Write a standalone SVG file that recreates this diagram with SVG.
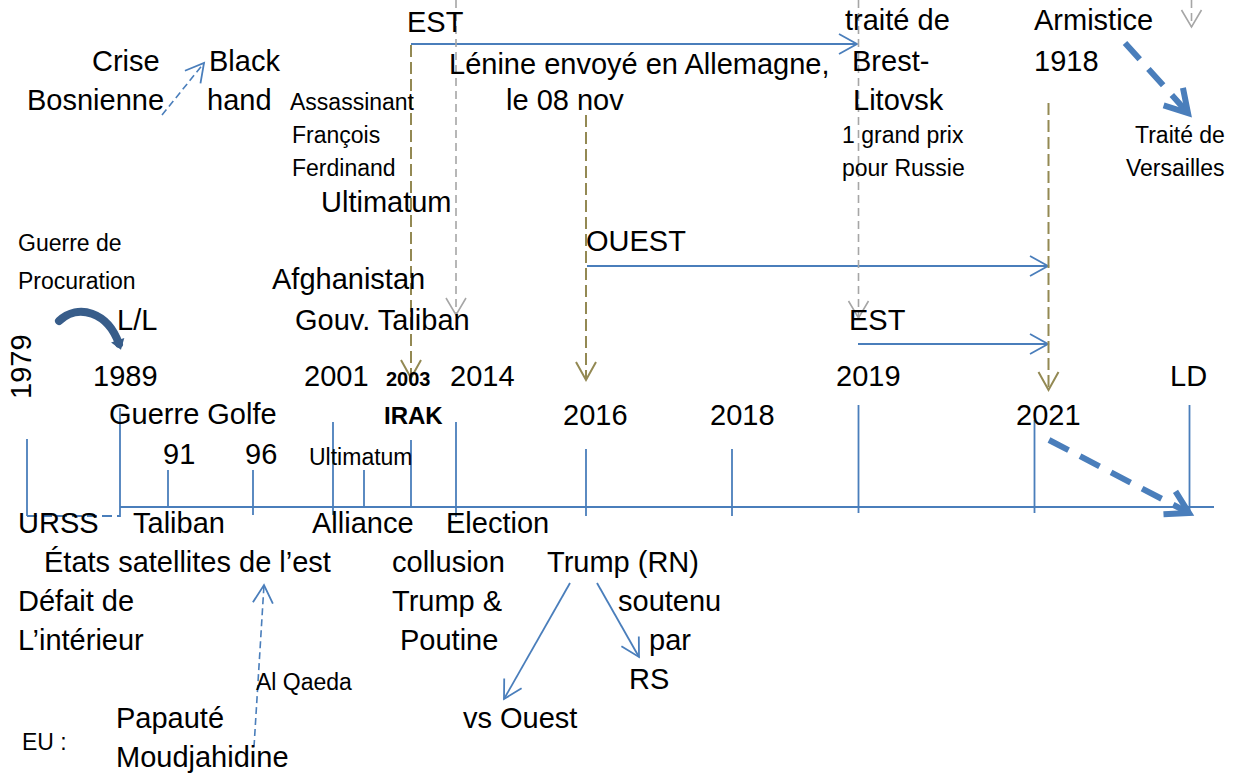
<svg xmlns="http://www.w3.org/2000/svg" width="1237" height="774" viewBox="0 0 1237 774">
<style>
text{font-family:"Liberation Sans",Arial,sans-serif;fill:#000}
.b{font-size:29px}
.s{font-size:23px}
.bd{font-weight:bold}
.ax{stroke:#4A7EBB;stroke-width:1.8;fill:none}
.ol{stroke:#938953;stroke-width:2;stroke-dasharray:12 5;fill:none}
.gr{stroke:#A6A6A6;stroke-width:1.6;stroke-dasharray:8 5;fill:none}
.th{stroke:#4A7EBB;stroke-width:6;stroke-dasharray:22 13;fill:none}
.td{stroke:#4A7EBB;stroke-width:1.6;stroke-dasharray:7 4;fill:none}
</style>
<defs>
<marker id="aBlue" markerUnits="userSpaceOnUse" markerWidth="24" markerHeight="24" refX="18" refY="10" orient="auto" overflow="visible"><path d="M0,0 L18,10 L0,20" fill="none" stroke="#4A7EBB" stroke-width="1.8"/></marker>
<marker id="aOlive" markerUnits="userSpaceOnUse" markerWidth="24" markerHeight="24" refX="18" refY="10" orient="auto" overflow="visible"><path d="M0,0 L18,10 L0,20" fill="none" stroke="#938953" stroke-width="2"/></marker>
<marker id="aGray" markerUnits="userSpaceOnUse" markerWidth="24" markerHeight="24" refX="17" refY="10" orient="auto" overflow="visible"><path d="M0,0 L17,10 L0,20" fill="none" stroke="#A6A6A6" stroke-width="1.6"/></marker>
<marker id="aThick" markerUnits="userSpaceOnUse" markerWidth="30" markerHeight="30" refX="22" refY="13" orient="auto" overflow="visible"><path d="M0,0 L22,13 L0,26" fill="none" stroke="#4A7EBB" stroke-width="6"/></marker>
<marker id="aCurve" markerUnits="userSpaceOnUse" markerWidth="14" markerHeight="16" refX="4" refY="7" orient="auto" overflow="visible"><path d="M0,0 L10,7 L0,14 z" fill="#385D8A"/></marker>
</defs>
<rect width="1237" height="774" fill="#fff"/>

<g id="connectors">
  <line class="ax" x1="120" y1="507" x2="1214" y2="507"/>
  <line class="ax" x1="27" y1="439" x2="27" y2="516"/>
  <line class="ax" x1="27" y1="516" x2="120" y2="516" stroke-dasharray="10 5"/>
  <line class="ax" x1="120" y1="408" x2="120" y2="517"/>
  <line class="ax" x1="168" y1="470" x2="168" y2="507"/>
  <line class="ax" x1="253" y1="470" x2="253" y2="515"/>
  <line class="ax" x1="333" y1="422" x2="333" y2="515"/>
  <line class="ax" x1="364" y1="470" x2="364" y2="507"/>
  <line class="ax" x1="411" y1="440" x2="411" y2="507"/>
  <line class="ax" x1="456" y1="422" x2="456" y2="517"/>
  <line class="ax" x1="586" y1="449" x2="586" y2="516"/>
  <line class="ax" x1="732" y1="449" x2="732" y2="516"/>
  <line class="ax" x1="858.5" y1="405" x2="858.5" y2="513"/>
  <line class="ax" x1="1034.5" y1="420" x2="1034.5" y2="513"/>
  <line class="ax" x1="1189.5" y1="405" x2="1189.5" y2="513"/>

  <line class="ax" x1="411" y1="44" x2="857" y2="44" marker-end="url(#aBlue)"/>
  <line class="ax" x1="587" y1="266" x2="1048" y2="266" marker-end="url(#aBlue)"/>
  <line class="ax" x1="858" y1="344" x2="1048" y2="344" marker-end="url(#aBlue)"/>

  <line class="ol" x1="411" y1="45" x2="411" y2="378" marker-end="url(#aOlive)"/>
  <line class="ol" x1="586" y1="115" x2="586" y2="380" marker-end="url(#aOlive)"/>
  <line class="ol" x1="1048.5" y1="103" x2="1048.5" y2="390" marker-end="url(#aOlive)"/>

  <line class="gr" x1="456" y1="0" x2="456" y2="315" marker-end="url(#aGray)"/>
  <line class="gr" x1="858.5" y1="0" x2="858.5" y2="318" marker-end="url(#aGray)"/>
  <line class="gr" x1="1191.5" y1="0" x2="1191.5" y2="27" marker-end="url(#aGray)"/>

  <line class="th" x1="1125" y1="43" x2="1188" y2="113" marker-end="url(#aThick)"/>
  <line class="th" x1="1049" y1="440" x2="1189" y2="513" marker-end="url(#aThick)"/>

  <line class="td" x1="162" y1="115" x2="204" y2="63" marker-end="url(#aBlue)"/>
  <line class="td" x1="254" y1="747" x2="264" y2="585" marker-end="url(#aBlue)"/>

  <line class="ax" x1="570" y1="583" x2="504" y2="699" marker-end="url(#aBlue)"/>
  <line class="ax" x1="597" y1="583" x2="639" y2="657" marker-end="url(#aBlue)"/>

  <path d="M59 321 C78 303 108 312 119 344" fill="none" stroke="#385D8A" stroke-width="8" stroke-linecap="round" marker-end="url(#aCurve)"/>
</g>

<g id="n-crise"><text class="b" x="92" y="71">Crise</text><text class="b" x="27" y="110">Bosnienne</text></g>
<g id="n-black"><text class="b" x="209" y="71">Black</text><text class="b" x="207" y="110">hand</text></g>
<g id="n-assassinat"><text class="s" x="290" y="110">Assassinant</text><text class="s" x="292" y="143">François</text><text class="s" x="292" y="176">Ferdinand</text></g>
<g id="n-ultimatum-top"><text class="b" x="321" y="212">Ultimatum</text></g>
<g id="n-est-top"><text class="b" x="407" y="32">EST</text></g>
<g id="n-lenine"><text class="b" x="449" y="74">Lénine envoyé en Allemagne,</text><text class="b" x="506" y="110">le 08 nov</text></g>
<g id="n-brest"><text class="b" x="845" y="30">traité de</text><text class="b" x="852" y="71">Brest-</text><text class="b" x="853" y="110">Litovsk</text><text class="s" x="842" y="143">1 grand prix</text><text class="s" x="842" y="176">pour Russie</text></g>
<g id="n-armistice"><text class="b" x="1034" y="30">Armistice</text><text class="b" x="1034" y="71">1918</text></g>
<g id="n-versailles"><text class="s" x="1135" y="143">Traité de</text><text class="s" x="1126" y="176">Versailles</text></g>

<g id="n-procuration"><text class="s" x="18" y="251">Guerre de</text><text class="s" x="18" y="289">Procuration</text></g>
<g id="n-afghanistan"><text class="b" x="272" y="289">Afghanistan</text><text class="b" x="295" y="330">Gouv. Taliban</text></g>
<g id="n-ouest"><text class="b" x="586" y="251">OUEST</text></g>
<g id="n-ll"><text class="b" x="117" y="330">L/L</text></g>
<g id="n-est2"><text class="b" x="849" y="330">EST</text></g>

<g id="n-1979"><text class="b" transform="translate(31,399) rotate(-90)">1979</text></g>
<g id="n-1989"><text class="b" x="93" y="386">1989</text><text class="b" x="109" y="424">Guerre Golfe</text></g>
<g id="n-2001"><text class="b" x="304" y="386">2001</text></g>
<g id="n-2003"><text class="bd" font-size="20" x="386" y="386">2003</text><text class="bd" font-size="24" x="384" y="424">IRAK</text></g>
<g id="n-2014"><text class="b" x="450" y="386">2014</text></g>
<g id="n-2016"><text class="b" x="563" y="425">2016</text></g>
<g id="n-2018"><text class="b" x="710" y="425">2018</text></g>
<g id="n-2019"><text class="b" x="836" y="386">2019</text></g>
<g id="n-2021"><text class="b" x="1016" y="425">2021</text></g>
<g id="n-ld"><text class="b" x="1170" y="386">LD</text></g>
<g id="n-91"><text class="b" x="163" y="464">91</text></g>
<g id="n-96"><text class="b" x="245" y="464">96</text></g>
<g id="n-ultimatum-low"><text class="s" x="309" y="465">Ultimatum</text></g>

<g id="n-urss"><text class="b" x="18" y="533">URSS</text><text class="b" x="44" y="572">États satellites de l’est</text><text class="b" x="18" y="611">Défait de</text><text class="b" x="18" y="650">L’intérieur</text></g>
<g id="n-taliban"><text class="b" x="133" y="533">Taliban</text></g>
<g id="n-alliance"><text class="b" x="312" y="533">Alliance</text></g>
<g id="n-election"><text class="b" x="446" y="533">Election</text></g>
<g id="n-collusion"><text class="b" x="392" y="572">collusion</text><text class="b" x="392" y="611">Trump &amp;</text><text class="b" x="400" y="650">Poutine</text></g>
<g id="n-trump"><text class="b" x="547" y="572">Trump (RN)</text></g>
<g id="n-soutenu"><text class="b" x="618" y="611">soutenu</text><text class="b" x="649" y="650">par</text><text class="b" x="629" y="689">RS</text></g>
<g id="n-vsouest"><text class="b" x="463" y="728">vs Ouest</text></g>
<g id="n-alqaeda"><text class="s" x="256" y="690">Al Qaeda</text></g>
<g id="n-eu"><text class="s" x="22" y="750">EU :</text><text class="b" x="116" y="728">Papauté</text><text class="b" x="116" y="767">Moudjahidine</text></g>
</svg>
